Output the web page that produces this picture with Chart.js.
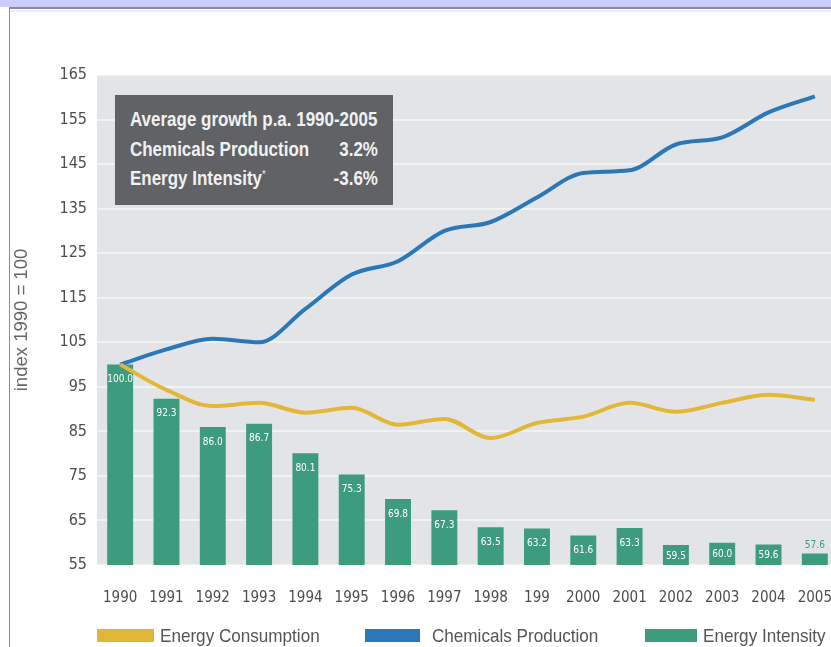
<!DOCTYPE html>
<html>
<head>
<meta charset="utf-8">
<script src="https://cdn.jsdelivr.net/npm/chart.js@4.4.1/dist/chart.umd.min.js"></script>
<style>
  html, body { margin: 0; padding: 0; background: #fff; overflow: hidden; width: 831px; height: 647px; }
  #wrap { position: absolute; left: 0; top: 0; width: 831px; height: 647px; overflow: hidden; }
  #chart { position: absolute; left: 0; top: 0; }
  .topband { position: absolute; left: 0; top: 0; width: 831px; height: 7px; background: #ccccff; }
  .topline { position: absolute; left: 9px; top: 7px; width: 822px; height: 2px; background: #8a8a98; }
  .topline2 { position: absolute; left: 10px; top: 10px; width: 821px; height: 2px; background: #ebebfa; }
  .leftline { position: absolute; left: 9px; top: 7px; width: 1px; height: 640px; background: #8c8c8c; }
  .note {
    position: absolute; left: 115px; top: 95px; width: 278px; height: 110px;
    background: #606266; color: #f1f1f1;
    font-family: "Liberation Sans", Arial, sans-serif; font-weight: bold; font-size: 19.5px; line-height: 29.5px;
  }
  .note .inner { position: absolute; left: 15px; top: 10px; width: 285px; transform: scaleX(0.87); transform-origin: 0 0; }
  .note .row { display: flex; justify-content: space-between; white-space: nowrap; }
  .note sup { font-size: 11px; line-height: 0; vertical-align: 7px; font-weight: normal; }
  .legend { position: absolute; top: 626px; height: 20px; font-family: "Liberation Sans", Arial, sans-serif; font-size: 19px; color: #555555; white-space: nowrap; line-height: 20px; }
  .legend .sw { position: absolute; left: 0; top: 3px; height: 13px; }
  .legend .tx { position: absolute; top: 0; transform: scaleX(0.9); transform-origin: 0 0; }
</style>
</head>
<body>
<div id="wrap">
  <canvas id="chart" width="860" height="647"></canvas>
  <div class="topband"></div>
  <div class="topline"></div>
  <div class="topline2"></div>
  <div class="leftline"></div>
  <div class="note">
    <div class="inner">
      <div class="row"><span>Average growth p.a. 1990-2005</span></div>
      <div class="row"><span>Chemicals Production</span><span>3.2%</span></div>
      <div class="row"><span>Energy Intensity<sup>*</sup></span><span>-3.6%</span></div>
    </div>
  </div>
  <div id="legend"></div>
</div>
<script>
// Years on the category axis (the 1999 tick is printed as "199")
const years = ['1990', '1991', '1992', '1993', '1994', '1995', '1996', '1997', '1998', '199',
               '2000', '2001', '2002', '2003', '2004', '2005'];

// Index values, 1990 = 100
const energyIntensity = [100.0, 92.3, 86.0, 86.7, 80.1, 75.3, 69.8, 67.3, 63.5, 63.2, 61.6, 63.3, 59.5, 60.0, 59.6, 57.6];
const chemicalsProduction = [100.0, 103.4, 105.8, 105.0, 112.5, 120.2, 123.2, 130.0, 132.0, 137.5, 143.0, 143.6, 149.4, 151.0, 156.6, 160.2];
const energyConsumption = [100.0, 94.3, 90.7, 91.4, 89.2, 90.3, 86.5, 87.8, 83.5, 86.9, 88.3, 91.4, 89.4, 91.4, 93.2, 92.1];

const yMin = 55, yMax = 165, yStep = 10;

const COLORS = {
  consumption: '#e2b637',
  production: '#2a78b8',
  intensity: '#3d9c7d',
  plotBg: '#e2e4e7',
  text: '#4d4d4d'
};

const COND = '"DejaVu Sans Condensed", "DejaVu Sans", sans-serif';

// Grey plotting field behind the bars and lines
const plotBackground = {
  id: 'plotBackground',
  beforeDraw(chart) {
    const { ctx, chartArea: a } = chart;
    ctx.save();
    ctx.fillStyle = COLORS.plotBg;
    ctx.fillRect(a.left, a.top, a.right - a.left, a.bottom - a.top);
    ctx.restore();
  }
};

// Value labels: inside the top of each bar, or above it when the bar is too short
const barValueLabels = {
  id: 'barValueLabels',
  afterDatasetsDraw(chart) {
    const { ctx, chartArea } = chart;
    chart.data.datasets.forEach((ds, i) => {
      if (ds.type !== 'bar') return;
      const meta = chart.getDatasetMeta(i);
      meta.data.forEach((bar, j) => {
        const txt = ds.data[j].toFixed(1);
        const h = chartArea.bottom - bar.y;
        ctx.save();
        ctx.font = '10px ' + COND;
        ctx.textAlign = 'center';
        if (h > 15) {
          ctx.fillStyle = '#ffffff';
          ctx.textBaseline = 'middle';
          ctx.fillText(txt, bar.x, bar.y + Math.min(15, h / 2 + 1));
        } else {
          ctx.fillStyle = COLORS.intensity;
          ctx.textBaseline = 'bottom';
          ctx.fillText(txt, bar.x, bar.y - 3);
        }
        ctx.restore();
      });
    });
  }
};

const chart = new Chart(document.getElementById('chart'), {
  data: {
    labels: years,
    datasets: [
      {
        type: 'line', label: 'Energy Consumption', data: energyConsumption,
        borderColor: COLORS.consumption, backgroundColor: COLORS.consumption,
        borderWidth: 4, pointRadius: 0, cubicInterpolationMode: 'monotone', order: 0
      },
      {
        type: 'line', label: 'Chemicals Production', data: chemicalsProduction,
        borderColor: COLORS.production, backgroundColor: COLORS.production,
        borderWidth: 4, pointRadius: 0, cubicInterpolationMode: 'monotone', order: 0
      },
      {
        type: 'bar', label: 'Energy Intensity', data: energyIntensity,
        backgroundColor: COLORS.intensity, borderWidth: 0,
        categoryPercentage: 1, barPercentage: 0.56, order: 1
      }
    ]
  },
  options: {
    responsive: false,
    devicePixelRatio: 1,
    animation: false,
    layout: { padding: { top: 75, right: 22, left: 0, bottom: 0 } },
    plugins: { legend: { display: false }, tooltip: { enabled: false } },
    scales: {
      x: {
        grid: { display: false, drawTicks: false },
        border: { display: false },
        ticks: { color: COLORS.text, font: { family: COND, size: 15 }, padding: 24, maxRotation: 0, autoSkip: false },
        afterFit(scale) { scale.height = 82; }
      },
      y: {
        min: yMin, max: yMax,
        grid: { color: 'rgba(255,255,255,0.5)', lineWidth: 2, drawTicks: false },
        border: { display: false },
        ticks: { stepSize: yStep, color: COLORS.text, font: { family: COND, size: 16 }, padding: 10 },
        title: {
          display: true, text: 'index 1990 = 100', color: '#666666',
          font: { family: '"Liberation Sans", Arial, sans-serif', size: 18.5 },
          padding: { top: 11, bottom: 0 }
        },
        afterFit(scale) { scale.width = 97; }
      }
    }
  },
  plugins: [plotBackground, barValueLabels]
});

// Legend row under the axis
const legendItems = [
  { label: 'Energy Consumption', color: COLORS.consumption, left: 97, sw: 57, gap: 6 },
  { label: 'Chemicals Production', color: COLORS.production, left: 365, sw: 55, gap: 12 },
  { label: 'Energy Intensity', color: COLORS.intensity, left: 645, sw: 52, gap: 6 }
];
const legendEl = document.getElementById('legend');
legendItems.forEach(it => {
  const d = document.createElement('div');
  d.className = 'legend';
  d.style.left = it.left + 'px';
  d.innerHTML = '<div class="sw" style="width:' + it.sw + 'px;background:' + it.color + '"></div>' +
                '<div class="tx" style="left:' + (it.sw + it.gap) + 'px">' + it.label + '</div>';
  legendEl.appendChild(d);
});
</script>
</body>
</html>
